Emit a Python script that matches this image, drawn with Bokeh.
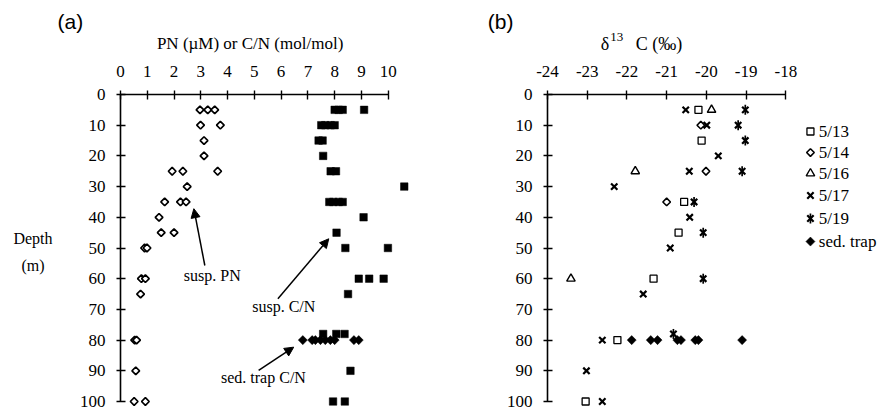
import numpy as np
from bokeh.plotting import figure
from bokeh.models import Range1d, FixedTicker, Label, Arrow, NormalHead, LinearAxis
from bokeh.layouts import row
from bokeh.embed import file_html
from bokeh.resources import INLINE

SERIF = "Liberation Serif"
SANS = "Liberation Sans"

# ---------------- data : panel (a) ----------------
pn_depth = [5, 5, 5, 10, 10, 15, 20, 25, 25, 25, 30, 35, 35, 35, 40, 45, 45,
            50, 50, 60, 60, 65, 80, 80, 90, 100, 100]
pn_value = [2.97, 3.26, 3.52, 2.99, 3.73, 3.12, 3.12, 1.93, 2.33, 3.63, 2.49,
            1.65, 2.24, 2.45, 1.44, 1.52, 2.0, 0.9, 0.99, 0.78, 0.93, 0.75,
            0.53, 0.6, 0.57, 0.51, 0.93]

cn_depth = [5, 5, 5, 5, 10, 10, 10, 10, 15, 15, 20, 25, 25, 30, 35, 35, 35, 35,
            40, 45, 50, 50, 60, 60, 60, 65, 78, 78, 78, 90, 100, 100]
cn_value = [8.0, 8.15, 8.3, 9.1, 7.5, 7.65, 7.85, 8.0, 7.4, 7.55, 7.57, 7.85,
            8.05, 10.6, 7.8, 7.95, 8.15, 8.3, 9.08, 8.07, 8.4, 9.99, 8.9, 9.29,
            9.83, 8.5, 7.57, 8.06, 8.37, 8.59, 7.94, 8.38]

trap_cn_depth = [80, 80, 80, 80, 80, 80, 80, 80, 80]
trap_cn_value = [6.81, 7.16, 7.28, 7.47, 7.65, 7.84, 8.0, 8.72, 8.9]

pn_ticks = [0, 1, 2, 3, 4, 5, 6, 7, 8, 9, 10]
depth_ticks = [0, 10, 20, 30, 40, 50, 60, 70, 80, 90, 100]

# ---------------- data : panel (b) ----------------
d513_depth = [5, 15, 35, 45, 60, 80, 100]
d513_value = [-20.2, -20.12, -20.56, -20.70, -21.33, -22.24, -23.04]
d514_depth = [10, 25, 35]
d514_value = [-20.14, -20.01, -21.0]
d516_depth = [5, 25, 60]
d516_value = [-19.87, -21.79, -23.41]
d517_depth = [5, 10, 20, 25, 30, 40, 50, 65, 80, 90, 100]
d517_value = [-20.52, -19.99, -19.70, -20.43, -22.32, -20.42, -20.91, -21.59,
              -22.62, -23.02, -22.62]
d519_depth = [5, 10, 15, 25, 35, 45, 60, 78]
d519_value = [-19.02, -19.2, -19.02, -19.1, -20.31, -20.08, -20.08, -20.83]
trap_d13_depth = [80, 80, 80, 80, 80, 80, 80, 80]
trap_d13_value = [-21.88, -21.40, -21.23, -20.73, -20.64, -20.28, -20.20, -19.1]

d13_ticks = [-24, -23, -22, -21, -20, -19, -18]
legend_labels = ["5/13", "5/14", "5/16", "5/17", "5/19", "sed. trap"]


def make_axis(ticks, bounds, standoff):
    ax = LinearAxis(fixed_location=0)
    ax.ticker = FixedTicker(ticks=ticks)
    ax.bounds = bounds
    ax.axis_line_width = 1.6
    ax.axis_line_color = "black"
    ax.major_tick_line_width = 1.4
    ax.major_tick_line_color = "black"
    ax.major_tick_in = 5
    ax.major_tick_out = 4
    ax.minor_tick_line_color = None
    ax.major_label_text_font = SERIF
    ax.major_label_text_font_size = "17px"
    ax.major_label_text_color = "black"
    ax.major_label_standoff = standoff
    ax.major_label_overrides = {t: str(t) for t in ticks}
    return ax


H = 410
PX_PER_M = 3.07
TOP = 94  # pixel row of depth 0


def base_fig(width, xr):
    p = figure(width=width, height=H, x_range=xr,
               y_range=Range1d((H - TOP) / PX_PER_M, -TOP / PX_PER_M),
               x_axis_location=None, y_axis_location=None,
               output_backend="svg", toolbar_location=None,
               min_border_left=0, min_border_right=0,
               min_border_top=0, min_border_bottom=0)
    p.grid.visible = False
    p.outline_line_color = None
    p.background_fill_color = "white"
    p.border_fill_color = "white"
    return p


def txt(p, x, y, text, size="16px", font=SERIF, align="center", baseline="middle"):
    p.add_layout(Label(x=x, y=y, text=text, text_font=font, text_font_size=size,
                       text_align=align, text_baseline=baseline, text_color="black"))


# ================= panel (a) =================
WA = 455
A0, AS = 120, 26.77  # pixel of value 0, px per unit
pa = base_fig(WA, Range1d(-A0 / AS, (WA - A0) / AS))
pa.add_layout(make_axis(pn_ticks, (0, 10), 14), "above")
pa.add_layout(make_axis(depth_ticks, (0, 100), 11), "left")

pa.scatter(pn_value, pn_depth, marker="square", angle=np.pi / 4, size=5.4,
           fill_color="white", line_color="black", line_width=1.7)
pa.scatter(cn_value, cn_depth, marker="square", size=7.5,
           fill_color="black", line_color="black", line_width=0.5)
pa.scatter(trap_cn_value, trap_cn_depth, marker="square", angle=np.pi / 4, size=6.4,
           fill_color="black", line_color="black", line_width=0.5)

txt(pa, 5.0, -16.6, "PN (\u00b5M)  or  C/N (mol/mol)", size="17px")
txt(pa, -1.87, -23.8, "(a)", size="21px", font=SANS)
txt(pa, -3.27, 46.9, "Depth", size="16px")
txt(pa, -3.27, 55.7, "(m)", size="16px")
txt(pa, 3.43, 59.0, "susp. PN", size="16px")
txt(pa, 6.1, 69.1, "susp. C/N", size="16px")
txt(pa, 5.34, 92.1, "sed. trap C/N", size="16px")

for (x0, y0, x1, y1) in [(3.15, 55.7, 2.74, 37.2), (5.88, 66.5, 7.78, 47.0),
                         (5.16, 89.9, 6.47, 82.3)]:
    pa.add_layout(Arrow(x_start=x0, y_start=y0, x_end=x1, y_end=y1,
                        line_width=1.5, line_color="black",
                        end=NormalHead(size=9, fill_color="black",
                                       line_color="black", line_width=1)))

# ================= panel (b) =================
WB = 429
B0, BS = 547, 39.72  # pixel (page) of -24, px per unit
xb0 = -24 + (WA - B0) / BS
pb = base_fig(WB, Range1d(xb0, xb0 + WB / BS))
pb.add_layout(make_axis(d13_ticks, (-24, -18), 14), "above")
yax = make_axis(depth_ticks, (0, 100), 11)
yax.fixed_location = -24
pb.add_layout(yax, "left")

open_kw = dict(fill_color="white", line_color="black")


def star(p, xs, ys):
    p.scatter(xs, ys, marker="x", size=9, line_width=2.2, line_color="black")
    p.scatter(xs, ys, marker="dash", angle=np.pi / 2, size=10,
              line_width=1.7, line_color="black")


pb.scatter(d513_value, d513_depth, marker="square", size=7, line_width=1.3, **open_kw)
pb.scatter(d514_value, d514_depth, marker="square", angle=np.pi / 4, size=5.4,
           line_width=1.6, **open_kw)
pb.scatter(d516_value, d516_depth, marker="triangle", size=8.5, line_width=1.4, **open_kw)
pb.scatter(d517_value, d517_depth, marker="x", size=9, line_width=2.2, line_color="black")
star(pb, d519_value, d519_depth)
pb.scatter(trap_d13_value, trap_d13_depth, marker="square", angle=np.pi / 4, size=6.4,
           fill_color="black", line_color="black", line_width=0.5)

# legend (drawn by hand)
leg_x = -17.38
leg_y = [12.05, 18.9, 25.7, 32.9, 40.4, 47.9]
pb.scatter([leg_x], [leg_y[0]], marker="square", size=7, line_width=1.3, **open_kw)
pb.scatter([leg_x], [leg_y[1]], marker="square", angle=np.pi / 4, size=5.4,
           line_width=1.6, **open_kw)
pb.scatter([leg_x], [leg_y[2]], marker="triangle", size=8.5, line_width=1.4, **open_kw)
pb.scatter([leg_x], [leg_y[3]], marker="x", size=9, line_width=2.2, line_color="black")
star(pb, [leg_x], [leg_y[4]])
pb.scatter([leg_x], [leg_y[5]], marker="square", angle=np.pi / 4, size=6.4,
           fill_color="black", line_color="black", line_width=0.5)
for yy, lab in zip(leg_y, legend_labels):
    txt(pb, -17.17, yy, lab, size="17px", align="left")

txt(pb, -22.66, -16.4, "\u03b4", size="18px", align="left")
txt(pb, -22.42, -18.8, "13", size="13px", align="left")
txt(pb, -21.78, -16.4, "C (\u2030)", size="18px", align="left")
txt(pb, -25.18, -23.8, "(b)", size="21px", font=SANS)

layout = row(pa, pb)
open("out.html", "w").write(file_html(layout, INLINE))
